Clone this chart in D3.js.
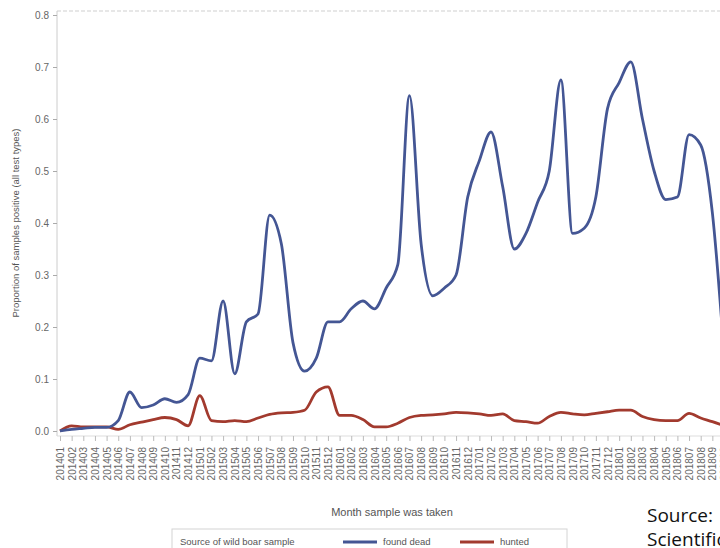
<!DOCTYPE html>
<meta charset="utf-8">
<script src="https://d3js.org/d3.v7.min.js"></script>
<style>
  body { margin: 0; background: #fff; }
  svg { display: block; font-family: "Liberation Sans", Arial, sans-serif; }
</style>
<div id="my_dataviz"></div>
<script>
// month labels on the x axis
var months = ["201401","201402","201403","201404","201405","201406","201407","201408","201409","201410","201411","201412",
  "201501","201502","201503","201504","201505","201506","201507","201508","201509","201510","201511","201512",
  "201601","201602","201603","201604","201605","201606","201607","201608","201609","201610","201611","201612",
  "201701","201702","201703","201704","201705","201706","201707","201708","201709","201710","201711","201712",
  "201801","201802","201803","201804","201805","201806","201807","201808","201809","201810"];

// proportion positive, found dead
var foundDead = [0.0,0.003,0.005,0.007,0.007,0.02,0.075,0.045,0.05,0.062,0.055,0.07,
  0.14,0.135,0.25,0.11,0.21,0.225,0.415,0.36,0.17,0.115,0.14,0.21,
  0.21,0.235,0.25,0.235,0.275,0.32,0.645,0.36,0.26,0.275,0.3,0.45,
  0.52,0.575,0.47,0.35,0.38,0.44,0.5,0.675,0.38,0.39,0.45,0.62,
  0.67,0.71,0.6,0.5,0.445,0.45,0.57,0.55,0.42,0.15];

// proportion positive, hunted
var hunted = [0.0,0.01,0.008,0.008,0.008,0.003,0.012,0.017,0.022,0.026,0.022,0.01,
  0.068,0.02,0.018,0.02,0.018,0.025,0.032,0.035,0.036,0.04,0.075,0.085,
  0.03,0.03,0.022,0.008,0.008,0.015,0.026,0.03,0.031,0.033,0.036,0.035,
  0.033,0.03,0.033,0.02,0.018,0.015,0.028,0.036,0.033,0.031,0.034,0.037,
  0.04,0.04,0.028,0.022,0.02,0.02,0.034,0.025,0.018,0.01];

var yTicks = [0, 0.1, 0.2, 0.3, 0.4, 0.5, 0.6, 0.7, 0.8];

var series = [
  {name: "found dead", values: foundDead, color: "#445694"},
  {name: "hunted", values: hunted, color: "#A23A2E"}
];

var width = 720, height = 548;

var svg = d3.select("#my_dataviz")
  .append("svg")
    .attr("width", width)
    .attr("height", height);

var x = d3.scalePoint()
  .domain(months)
  .range([60, 724]);

var y = d3.scaleLinear()
  .domain([0, 0.8])
  .range([431, 15]);

// frame: dashed top border
svg.append("line")
  .attr("x1", 57).attr("x2", 730)
  .attr("y1", 11).attr("y2", 11)
  .style("stroke", "#cfcfcf")
  .style("stroke-dasharray", "4,2");

// Y axis
var yAxis = svg.append("g")
  .attr("transform", "translate(57,0)")
  .call(d3.axisLeft(y).tickValues(yTicks).tickFormat(d3.format(".1f")).tickSize(4).tickPadding(4));
yAxis.select(".domain").attr("d", "M0,11V436").style("stroke", "#cccccc");
yAxis.selectAll(".tick line").style("stroke", "#aaaaaa");
yAxis.selectAll("text")
  .style("font-size", "10px")
  .style("fill", "#666");

// X axis
var xAxis = svg.append("g")
  .attr("transform", "translate(0,436)")
  .call(d3.axisBottom(x).tickSize(5));
xAxis.select(".domain").attr("d", "M57,0H730").style("stroke", "#dddddd");
xAxis.selectAll(".tick line").style("stroke", "#bbbbbb");
xAxis.selectAll("text")
  .attr("x", 0)
  .attr("y", 0)
  .attr("dy", ".35em")
  .attr("transform", "translate(0,11) rotate(-90)")
  .style("text-anchor", "end")
  .style("font-size", "10px")
  .style("fill", "#666");

// lines
var line = function(vals) {
  return d3.line()
    .x(function(d, i) { return x(months[i]); })
    .y(function(d) { return y(d); })
    .curve(d3.curveMonotoneX)(vals);
};

series.slice().reverse().forEach(function(s) {
  svg.append("path")
    .attr("d", line(s.values))
    .style("fill", "none")
    .style("stroke", s.color)
    .style("stroke-width", 2.8)
    .style("stroke-linejoin", "round");
});

// axis titles
svg.append("text")
  .attr("transform", "translate(16,223) rotate(-90)")
  .attr("dy", ".35em")
  .attr("text-anchor", "middle")
  .style("font-size", "9.5px")
  .style("fill", "#555")
  .text("Proportion of samples positive (all test types)");

svg.append("text")
  .attr("x", 392)
  .attr("y", 516)
  .attr("text-anchor", "middle")
  .style("font-size", "11px")
  .style("fill", "#555")
  .text("Month sample was taken");

// legend
var legend = svg.append("g");
legend.append("rect")
  .attr("x", 172).attr("y", 529)
  .attr("width", 395).attr("height", 30)
  .style("fill", "none")
  .style("stroke", "#d4d4d4");
legend.append("text")
  .attr("x", 180).attr("y", 545)
  .style("font-size", "9.5px")
  .style("fill", "#555")
  .text("Source of wild boar sample");

var legX = [343, 460];
series.forEach(function(s, i) {
  legend.append("line")
    .attr("x1", legX[i]).attr("x2", legX[i] + 34)
    .attr("y1", 542).attr("y2", 542)
    .style("stroke", s.color)
    .style("stroke-width", 2.8);
  legend.append("text")
    .attr("x", legX[i] + 40).attr("y", 545)
    .style("font-size", "9.5px")
    .style("fill", "#555")
    .text(s.name);
});

// source note
svg.append("text")
  .attr("x", 647).attr("y", 522)
  .style("font-family", "'Open Sans', sans-serif")
  .style("font-size", "19px")
  .style("fill", "#111")
  .text("Source:");
svg.append("text")
  .attr("x", 647).attr("y", 546)
  .style("font-family", "'Open Sans', sans-serif")
  .style("font-size", "19px")
  .style("fill", "#111")
  .text("Scientific report");
</script>
